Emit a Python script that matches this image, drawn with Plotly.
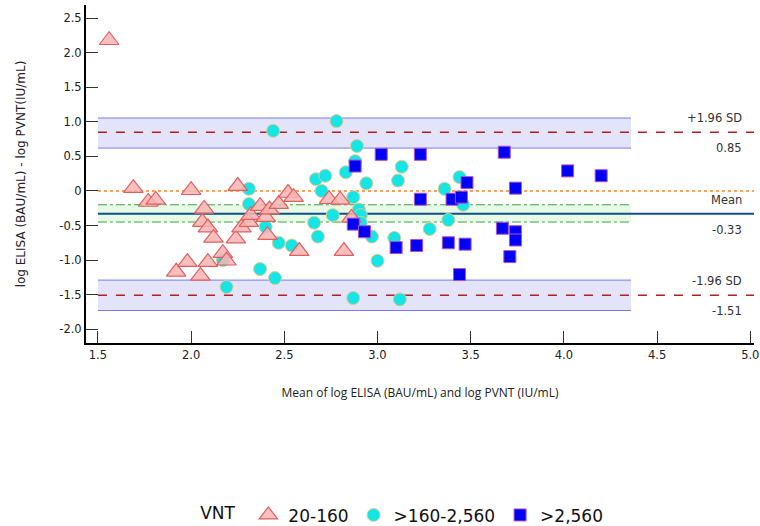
import plotly.graph_objects as go

# Bland-Altman: mean of log ELISA and log PVNT vs their difference, grouped by VNT titre
tri_x = [1.56, 1.69, 1.77, 1.81, 1.92, 1.98, 2.00, 2.05, 2.07, 2.06, 2.09, 2.12, 2.09, 2.17,
         2.19, 2.24, 2.25, 2.27, 2.31, 2.32, 2.37, 2.40, 2.42, 2.41, 2.47, 2.52, 2.55, 2.58,
         2.74, 2.80, 2.82, 2.86]
tri_y = [2.18, 0.04, -0.16, -0.13, -1.17, -1.03, 0.01, -1.23, -0.26, -0.45, -0.53, -0.68, -1.03, -0.90,
         -1.01, -0.69, 0.07, -0.53, -0.45, -0.35, -0.22, -0.38, -0.27, -0.64, -0.19, -0.03, -0.09, -0.87,
         -0.12, -0.13, -0.87, -0.39]

circ_x = [2.44, 2.31, 2.31, 2.40, 2.47, 2.54, 2.37, 2.45, 2.19, 2.17, 2.67, 2.72, 2.70, 2.66,
          2.68, 2.78, 2.89, 2.88, 2.83, 2.76, 2.87, 2.94, 2.90, 2.91, 2.91, 2.97, 3.00, 3.11,
          3.13, 3.09, 2.87, 3.12, 3.28, 3.36, 3.44, 3.46, 3.38]
circ_y = [0.87, 0.03, -0.19, -0.52, -0.75, -0.79, -1.13, -1.26, -1.39, -1.00, 0.17, 0.22, 0.00, -0.46,
          -0.66, 1.01, 0.65, 0.43, 0.27, -0.35, -0.09, 0.11, -0.27, -0.35, -0.46, -0.66, -1.01, 0.15,
          0.35, -0.68, -1.55, -1.57, -0.55, 0.03, 0.20, -0.20, -0.42]

sq_x = [3.02, 3.23, 3.68, 2.88, 3.48, 3.74, 3.23, 3.40, 3.45, 2.87, 2.93, 3.10, 3.21, 3.38,
        3.47, 3.67, 3.74, 3.74, 3.71, 3.44, 4.02, 4.20]
sq_y = [0.53, 0.53, 0.56, 0.36, 0.12, 0.04, -0.12, -0.12, -0.09, -0.48, -0.59, -0.82, -0.79, -0.75,
        -0.77, -0.54, -0.59, -0.71, -0.95, -1.21, 0.29, 0.22]

# Bias and limits of agreement with their confidence intervals
mean_diff = -0.33
mean_ci = [-0.45, -0.20]
upper_loa = 0.85
upper_ci = [0.62, 1.055]
lower_loa = -1.51
lower_ci = [-1.73, -1.29]
band_x = [1.5, 4.36]

group_names = ["20-160", ">160-2,560", ">2,560"]
x_ticks = [1.5, 2.0, 2.5, 3.0, 3.5, 4.0, 4.5, 5.0]
y_ticks = [-2.0, -1.5, -1.0, -0.5, 0, 0.5, 1.0, 1.5, 2.0, 2.5]

fig = go.Figure()

fig.add_trace(go.Scatter(
    x=circ_x, y=circ_y, mode="markers", name=group_names[1], legendrank=2,
    marker=dict(symbol="circle", size=13, color="#14e6e6",
                line=dict(color="#e8c890", width=1)),
))
fig.add_trace(go.Scatter(
    x=tri_x, y=tri_y, mode="markers", name=group_names[0], legendrank=1,
    marker=dict(symbol="triangle-up", size=17, color="rgba(248,180,180,0.85)",
                line=dict(color="#e06060", width=1.2)),
))
fig.add_trace(go.Scatter(
    x=sq_x, y=sq_y, mode="markers", name=group_names[2], legendrank=3,
    marker=dict(symbol="square", size=12, color="#0000f5",
                line=dict(color="#b050d0", width=1)),
))

shapes = []
# confidence bands
for lo, hi, fill, edge, dash in [
    (upper_ci[0], upper_ci[1], "rgba(200,200,245,0.5)", "#7a7af0", "solid"),
    (lower_ci[0], lower_ci[1], "rgba(200,200,245,0.5)", "#7a7af0", "solid"),
    (mean_ci[0], mean_ci[1], "rgba(200,245,200,0.45)", "#44a044", "dashdot"),
]:
    shapes.append(dict(type="rect", xref="x", yref="y", x0=band_x[0], x1=band_x[1],
                       y0=lo, y1=hi, fillcolor=fill, line=dict(width=0), layer="below"))
    for yy in (lo, hi):
        shapes.append(dict(type="line", xref="x", yref="y", x0=band_x[0], x1=band_x[1],
                           y0=yy, y1=yy, line=dict(color=edge, width=1, dash=dash), layer="below"))

# reference lines running to the right edge
shapes.append(dict(type="line", xref="x", yref="y", x0=band_x[0], x1=5.02, y0=0, y1=0,
                   line=dict(color="#ff8020", width=1.5, dash="dot"), layer="below"))
shapes.append(dict(type="line", xref="x", yref="y", x0=band_x[0], x1=5.02, y0=mean_diff, y1=mean_diff,
                   line=dict(color="#10508a", width=1.8), layer="below"))
for yy in (upper_loa, lower_loa):
    shapes.append(dict(type="line", xref="x", yref="y", x0=band_x[0], x1=5.02, y0=yy, y1=yy,
                       line=dict(color="#b02020", width=1.6, dash="dash"), layer="below"))

annots = []
lab_font = dict(family="DejaVu Sans, Verdana, sans-serif", size=11.5, color="#333333")
for yy, above, below in [(upper_loa, "+1.96 SD", f"{upper_loa:.2f}"),
                         (mean_diff, "Mean", f"{mean_diff:.2f}"),
                         (lower_loa, "-1.96 SD", f"{lower_loa:.2f}")]:
    annots.append(dict(xref="paper", yref="y", x=0.985, y=yy, text=above, showarrow=False,
                       xanchor="right", yanchor="bottom", yshift=5, font=lab_font))
    annots.append(dict(xref="paper", yref="y", x=0.985, y=yy, text=below, showarrow=False,
                       xanchor="right", yanchor="top", yshift=-7, font=lab_font))

fig.update_layout(
    width=760, height=526,
    margin=dict(l=86, r=6, t=5, b=183, autoexpand=False),
    paper_bgcolor="white", plot_bgcolor="white",
    shapes=shapes, annotations=annots,
    showlegend=True,
    legend=dict(orientation="h", x=0.168, xanchor="left", y=-0.51, yanchor="middle",
                title=dict(text="VNT ", side="left",
                           font=dict(family="DejaVu Sans, Verdana, sans-serif", size=17, color="#111")),
                font=dict(family="DejaVu Sans, Verdana, sans-serif", size=17, color="#111"),
                itemwidth=30, traceorder="normal", bgcolor="rgba(0,0,0,0)"),
    xaxis=dict(range=[1.436, 5.02], tickvals=x_ticks, ticktext=[f"{v:.1f}" for v in x_ticks],
               ticks="inside", ticklen=12, tickwidth=1.2, tickcolor="#333",
               ticklabeloverflow="allow",
               showline=True, linecolor="black", linewidth=2, showgrid=False, zeroline=False,
               tickfont=dict(family="DejaVu Sans, Verdana, sans-serif", size=11.5, color="#222"),
               title=dict(text="Mean of log ELISA (BAU/mL) and log PVNT (IU/mL)", standoff=28,
                          font=dict(family="Open Sans, sans-serif", size=12, color="#222"))),
    yaxis=dict(range=[-2.2, 2.69], tickvals=y_ticks,
               ticktext=["0" if v == 0 else f"{v:.1f}" for v in y_ticks],
               ticks="inside", ticklen=12, tickwidth=1.2, tickcolor="#333",
               showline=True, linecolor="black", linewidth=2, showgrid=False, zeroline=False,
               tickfont=dict(family="DejaVu Sans, Verdana, sans-serif", size=11.5, color="#222"),
               title=dict(text="log ELISA (BAU/mL) - log PVNT(IU/mL)", standoff=31,
                          font=dict(family="DejaVu Sans, Verdana, sans-serif", size=12, color="#222"))),
)

fig.write_html("out.html")
